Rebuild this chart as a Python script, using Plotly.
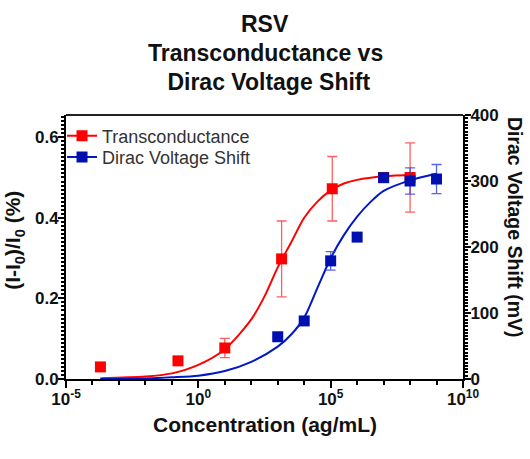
import plotly.graph_objects as go

# ---- data ----
red_conc = [2e-4, 0.17, 10, 1.4e3, 1.15e5, 1e7, 1e8]
red_vals = [0.030, 0.045, 0.077, 0.298, 0.472, 0.500, 0.500]
red_err = [0, 0, 0.024, 0.094, 0.080, 0, 0.086]

blue_conc = [1e3, 1e4, 1e5, 1e6, 1e7, 1e8, 1e9]
blue_vals = [64, 88, 179, 215, 305, 300, 303]
blue_err = [0, 5, 14, 0, 0, 20, 22]

# fitted curves
red_fit_conc = [2e-4, 1e-2, 1e-1, 1, 10, 1e2, 10 ** 2.5, 1e3, 10 ** 3.5, 1e4, 10 ** 4.5, 1e5, 10 ** 5.5, 1e6, 1e7, 1.6e8]
red_fit_vals = [0.002, 0.006, 0.014, 0.035, 0.074, 0.148, 0.205, 0.277, 0.338, 0.400, 0.440, 0.468, 0.485, 0.494, 0.503, 0.507]

blue_fit_conc = [2e-4, 1e-2, 1e-1, 1, 10, 1e2, 1e3, 10 ** 3.5, 1e4, 10 ** 4.5, 1e5, 10 ** 5.5, 1e6, 10 ** 6.5, 1e7, 1e8, 1e9]
blue_fit_vals = [0, 0.8, 2.5, 5, 12, 26, 49, 67, 93, 138, 183, 218, 246, 268, 285, 301, 311]

x_tickvals = [1e-5, 1, 1e5, 1e10]
x_ticktext = ["10<sup>-5</sup>", "10<sup>0</sup>", "10<sup>5</sup>", "10<sup>10</sup>"]
y1_tickvals = [0.0, 0.2, 0.4, 0.6]
y1_ticktext = ["0.0", "0.2", "0.4", "0.6"]
y2_tickvals = [0, 100, 200, 300, 400]

title_lines = ["RSV", "Transconductance vs", " Dirac Voltage Shift"]

RED = "#ff0000"
BLUE = "#0018c8"
FONT = "Arial, Liberation Sans, sans-serif"

fig = go.Figure()

# legend-only entries (one legend each, for exact placement)
fig.add_trace(go.Scatter(x=[None], y=[None], mode="lines+markers", name="Transconductance", legend="legend",
                         line=dict(color=RED, width=2), marker=dict(symbol="square", size=11, color=RED)))
fig.add_trace(go.Scatter(x=[None], y=[None], mode="lines+markers", name="Dirac Voltage Shift", legend="legend2",
                         line=dict(color=BLUE, width=2), marker=dict(symbol="square", size=11, color="#0010b0")))

# red fit + points (left axis)
fig.add_trace(go.Scatter(x=red_fit_conc, y=red_fit_vals, mode="lines",
                         line=dict(color=RED, width=2, shape="spline", smoothing=0.8),
                         showlegend=False, hoverinfo="skip"))
fig.add_trace(go.Scatter(x=red_conc, y=red_vals, mode="markers", showlegend=False,
                         marker=dict(symbol="square", size=11, color=RED),
                         error_y=dict(type="data", array=red_err, color="rgba(255,40,40,0.75)", thickness=1.3, width=5)))

# blue fit + points (right axis)
fig.add_trace(go.Scatter(x=blue_fit_conc, y=blue_fit_vals, mode="lines", yaxis="y2",
                         line=dict(color=BLUE, width=2, shape="spline", smoothing=0.8),
                         showlegend=False, hoverinfo="skip"))
fig.add_trace(go.Scatter(x=blue_conc, y=blue_vals, mode="markers", yaxis="y2", showlegend=False,
                         marker=dict(symbol="square", size=11, color="#0010b0"),
                         error_y=dict(type="data", array=blue_err, color="rgba(40,60,230,0.8)", thickness=1.3, width=5)))

axis_common = dict(showline=True, linecolor="black", linewidth=2, ticks="outside", tickcolor="black",
                   tickwidth=2, showgrid=False, zeroline=False,
                   tickfont=dict(family=FONT, size=17, color="#111", weight="bold"))

legend_style = dict(xanchor="left", yanchor="top", bgcolor="rgba(0,0,0,0)",
                    font=dict(family=FONT, size=18, color="#333"), itemwidth=30)

title_y = [1.345, 1.233, 1.125]
title_x = [0.5, 0.503, 0.505]
annotations = [
    dict(text=f"<b>{t}</b>", xref="paper", yref="paper", x=xx, y=yy, showarrow=False,
         font=dict(family=FONT, size=23, color="#111"), xanchor="center", yanchor="middle")
    for t, xx, yy in zip(title_lines, title_x, title_y)
]
annotations += [
    dict(text="<b>(I-I<sub>0</sub>)/I<sub>0</sub> (%)</b>", xref="paper", yref="paper", x=-0.131, y=0.527,
         textangle=-90, showarrow=False, font=dict(family=FONT, size=21, color="#111"),
         xanchor="center", yanchor="middle"),
    dict(text="<b>Dirac Voltage Shift (mV)</b>", xref="paper", yref="paper", x=1.131, y=0.576,
         textangle=90, showarrow=False, font=dict(family=FONT, size=19.5, color="#111"),
         xanchor="center", yanchor="middle"),
    dict(text="<b>Concentration (ag/mL)</b>", xref="paper", yref="paper", x=0.5, y=-0.174,
         showarrow=False, font=dict(family=FONT, size=21, color="#111"),
         xanchor="center", yanchor="middle"),
]

fig.update_layout(
    width=530, height=459,
    margin=dict(l=66, r=67, t=115, b=80),
    paper_bgcolor="white", plot_bgcolor="white",
    font=dict(family=FONT, color="#111"),
    xaxis=dict(type="log", range=[-5, 10], tickvals=x_tickvals, ticktext=x_ticktext, ticklen=7,
               ticklabelstandoff=-3,
               minor=dict(tickvals=[10 ** k for k in range(-5, 11)], ticks="outside", ticklen=4,
                          tickwidth=1.5, tickcolor="black"),
               **axis_common),
    yaxis=dict(range=[0, 0.655], tickvals=y1_tickvals, ticktext=y1_ticktext, ticklen=6,
               ticklabelstandoff=-4,
               minor=dict(dtick=0.01, tick0=0, ticks="outside", ticklen=3, tickwidth=1.5, tickcolor="black"),
               **axis_common),
    yaxis2=dict(range=[0, 400], tickvals=y2_tickvals, ticklen=6, overlaying="y", side="right",
                ticklabelstandoff=-4,
                minor=dict(dtick=5, tick0=0, ticks="outside", ticklen=3, tickwidth=1.5, tickcolor="black"),
                **axis_common),
    legend=dict(x=-0.01, y=0.99, **legend_style),
    legend2=dict(x=-0.01, y=0.91, **legend_style),
    showlegend=True,
    shapes=[dict(type="line", xref="paper", yref="paper", x0=0, x1=1, y0=1, y1=1,
                 line=dict(color="#222", width=2))],
    annotations=annotations,
)

fig.write_html("out.html", config={"displayModeBar": False},
               post_script="document.body.style.margin='0px';")
